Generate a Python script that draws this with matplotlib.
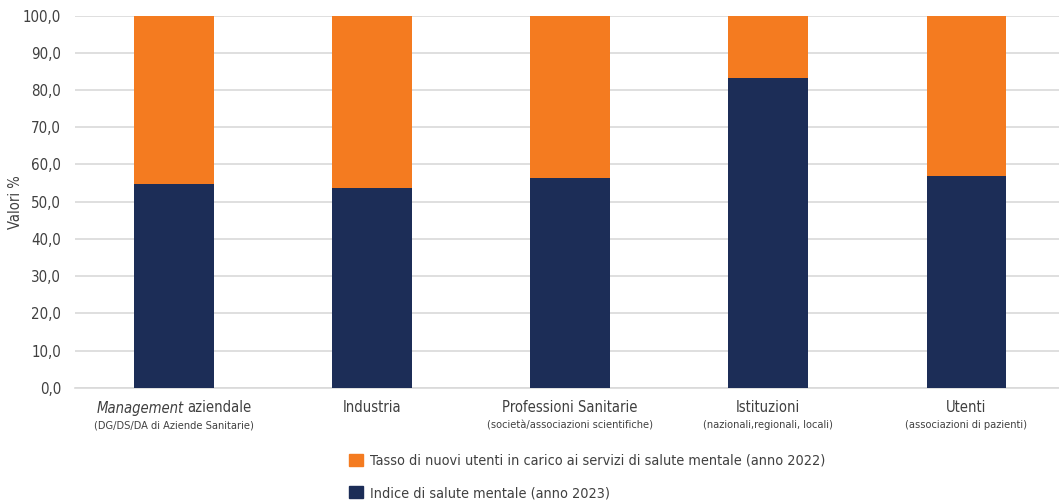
import matplotlib
matplotlib.use("Agg")
import matplotlib.pyplot as plt
from matplotlib.patches import Patch
from matplotlib.transforms import blended_transform_factory, offset_copy

plt.rcParams['font.family'] = ['DejaVu Sans']
plt.rcParams['font.stretch'] = 'condensed'

# dati
categorie = ["Management aziendale", "Industria", "Professioni Sanitarie",
             "Istituzioni", "Utenti"]
sottotitoli = ["(DG/DS/DA di Aziende Sanitarie)", "", "(società/associazioni scientifiche)",
               "(nazionali,regionali, locali)", "(associazioni di pazienti)"]
indice_salute = [54.8, 53.8, 56.3, 83.1, 56.8]
tasso_nuovi = [100 - v for v in indice_salute]

col_blu = '#1c2d57'
col_arancio = '#f47b20'
col_testo = '#404040'
fs_cat = 10.6

fig = plt.figure(figsize=(10.59, 5.01), dpi=100)
ax = fig.add_axes([0.0708, 0.226, 0.935, 0.743])

x = range(len(categorie))
ax.bar(x, indice_salute, width=0.4, color=col_blu, zorder=3)
ax.bar(x, tasso_nuovi, width=0.4, bottom=indice_salute, color=col_arancio, zorder=3)

ax.set_xlim(-0.5, 4.5)
ax.set_ylim(0, 100)
ax.set_yticks(range(0, 101, 10))
ax.set_yticklabels([f"{v},0" for v in range(0, 101, 10)], fontsize=10.8, color=col_testo)
ax.yaxis.grid(True, color='#d9d9d9', linewidth=1.2, zorder=0)
ax.tick_params(axis='y', length=0, pad=10)
ax.set_xticks([])
for s in ['top', 'right', 'left']:
    ax.spines[s].set_visible(False)
ax.spines['bottom'].set_color('#d9d9d9')
ax.spines['bottom'].set_linewidth(1.2)
ax.set_ylabel("Valori %", fontsize=10.5, color=col_testo)
ax.yaxis.set_label_coords(-0.0525, 0.5)

tr = blended_transform_factory(ax.transData, fig.transFigure)
renderer = fig.canvas.get_renderer()
for i, (c, s) in enumerate(zip(categorie, sottotitoli)):
    if c.startswith("Management"):
        # parte in corsivo + parte normale
        t1 = ax.text(0, 0, "Management", fontsize=fs_cat, style='italic')
        t2 = ax.text(0, 0, "aziendale", fontsize=fs_cat)
        w1 = t1.get_window_extent(renderer).width
        w2 = t2.get_window_extent(renderer).width
        t1.remove(); t2.remove()
        gap = 3
        start = -(w1 + gap + w2) / 2
        ax.text(i, 1 - 408 / 501, "Management", style='italic', ha='left', va='center',
                fontsize=fs_cat, color=col_testo,
                transform=offset_copy(tr, fig=fig, x=start, units='dots'))
        ax.text(i, 1 - 408 / 501, "aziendale", ha='left', va='center',
                fontsize=fs_cat, color=col_testo,
                transform=offset_copy(tr, fig=fig, x=start + w1 + gap, units='dots'))
    else:
        ax.text(i, 1 - 408 / 501, c, transform=tr, ha='center', va='center',
                fontsize=fs_cat, color=col_testo)
    if s:
        ax.text(i, 1 - 425 / 501, s, transform=tr, ha='center', va='center',
                fontsize=7.9, color=col_testo)

handles = [Patch(color=col_arancio), Patch(color=col_blu)]
etichette = ["Tasso di nuovi utenti in carico ai servizi di salute mentale (anno 2022)",
             "Indice di salute mentale (anno 2023)"]
fig.legend(handles, etichette, loc='upper left', bbox_to_anchor=(0.324, 0.106),
           frameon=False, fontsize=10.4, labelcolor=col_testo, handlelength=0.95,
           handleheight=0.95, handletextpad=0.5, labelspacing=1.25, borderaxespad=0)

fig.savefig("out.png", dpi=100)
